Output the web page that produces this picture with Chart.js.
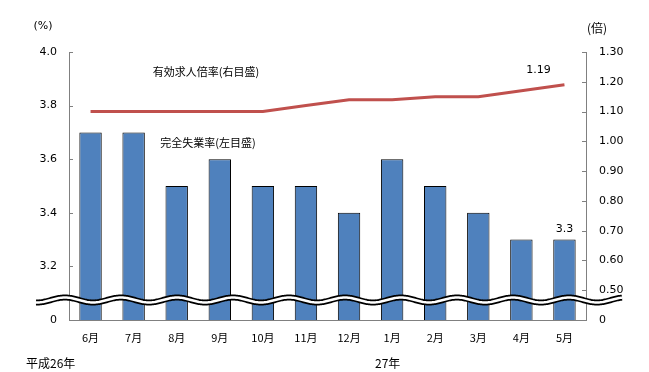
<!DOCTYPE html>
<html>
<head>
<meta charset="utf-8">
<script src="https://cdn.jsdelivr.net/npm/chart.js"></script>
<style>
  html, body { margin: 0; padding: 0; background: #fff; }
  #wrap { width: 649px; height: 372px; }
</style>
</head>
<body>
<div id="wrap"><canvas id="chart" width="649" height="372"></canvas></div>
<script>
const months = ["6月", "7月", "8月", "9月", "10月", "11月", "12月", "1月", "2月", "3月", "4月", "5月"];
const unemployment = [3.7, 3.7, 3.5, 3.6, 3.5, 3.5, 3.4, 3.6, 3.5, 3.4, 3.3, 3.3];
const jobRatio = [1.10, 1.10, 1.10, 1.10, 1.10, 1.12, 1.14, 1.14, 1.15, 1.15, 1.17, 1.19];
const leftTicks = [3.0, 3.2, 3.4, 3.6, 3.8, 4.0];
const rightTicks = [0.4, 0.5, 0.6, 0.7, 0.8, 0.9, 1.0, 1.1, 1.2, 1.3];

const jp = '"Noto Sans CJK JP", sans-serif';
const num = '"DejaVu Sans", sans-serif';

// texts, tick marks, axis break
const extras = {
  id: "extras",
  afterDatasetsDraw(chart) {
    const { ctx, chartArea: a, scales } = chart;
    ctx.save();

    // inward tick marks
    ctx.strokeStyle = "#808080";
    ctx.lineWidth = 1;
    leftTicks.forEach(v => {
      const y = Math.round(scales.y.getPixelForValue(v)) + 0.5;
      ctx.beginPath(); ctx.moveTo(a.left, y); ctx.lineTo(a.left + 4, y); ctx.stroke();
    });
    rightTicks.forEach(v => {
      const y = Math.round(scales.y1.getPixelForValue(v)) + 0.5;
      ctx.beginPath(); ctx.moveTo(a.right - 4, y); ctx.lineTo(a.right, y); ctx.stroke();
    });

    // wavy break
    const wave = () => {
      ctx.beginPath();
      for (let x = 36; x <= 622; x++) {
        const y = 300 + 2.5 * Math.sin((x - 79) / 56 * 2 * Math.PI);
        if (x === 36) ctx.moveTo(x, y); else ctx.lineTo(x, y);
      }
      ctx.stroke();
    };
    ctx.strokeStyle = "#000";
    ctx.lineWidth = 6;
    wave();
    ctx.strokeStyle = "#fff";
    ctx.lineWidth = 2.5;
    wave();

    // texts
    ctx.fillStyle = "#000";
    ctx.textBaseline = "middle";
    ctx.textAlign = "center";
    ctx.font = "11px " + num;
    ctx.fillText("(%)", 43, 26);
    ctx.font = "12px " + jp;
    ctx.fillText("(倍)", 597, 28);
    ctx.font = "11px " + jp;
    ctx.fillText("有効求人倍率(右目盛)", 206, 72);
    ctx.fillText("完全失業率(左目盛)", 208, 143);
    ctx.font = "12px " + jp;
    ctx.textAlign = "left";
    ctx.fillText("平成26年", 26, 363);
    ctx.fillText("27年", 375, 363);

    // data labels
    ctx.textAlign = "center";
    ctx.font = "11px " + num;
    const pts = chart.getDatasetMeta(0).data;
    const lp = pts[pts.length - 1];
    ctx.fillText(jobRatio[jobRatio.length - 1].toFixed(2), lp.x - 26, lp.y - 15);
    const bars = chart.getDatasetMeta(1).data;
    const last = bars[bars.length - 1];
    ctx.fillText(unemployment[unemployment.length - 1].toFixed(1), last.x, last.y - 10);

    ctx.restore();
  }
};

new Chart(document.getElementById("chart").getContext("2d"), {
  data: {
    labels: months,
    datasets: [
      {
        type: "line",
        label: "有効求人倍率",
        data: jobRatio,
        yAxisID: "y1",
        borderColor: "#C0504D",
        borderWidth: 3,
        pointRadius: 0,
        tension: 0,
        order: 0
      },
      {
        type: "bar",
        label: "完全失業率",
        data: unemployment,
        yAxisID: "y",
        backgroundColor: "#4F81BD",
        borderColor: "#000",
        borderWidth: 1,
        categoryPercentage: 1,
        barPercentage: 0.52,
        order: 1
      }
    ]
  },
  options: {
    responsive: false,
    animation: false,
    layout: { padding: { top: 52, left: 0, right: 0, bottom: 0 } },
    plugins: { legend: { display: false }, tooltip: { enabled: false } },
    scales: {
      x: {
        grid: { display: false, drawTicks: false },
        border: { display: true, color: "#808080" },
        ticks: { color: "#000", font: { family: jp, size: 11 }, padding: 11, maxRotation: 0 },
        afterFit: s => { s.height = 52; }
      },
      y: {
        position: "left",
        min: 3.0,
        max: 4.0,
        grid: { display: false, drawTicks: false },
        border: { display: true, color: "#808080" },
        afterBuildTicks: s => { s.ticks = leftTicks.map(v => ({ value: v })); },
        ticks: {
          color: "#000",
          font: { family: num, size: 11 },
          padding: 12,
          callback: v => (v === 3.0 ? "0" : v.toFixed(1))
        },
        afterFit: s => { s.width = 69; }
      },
      y1: {
        position: "right",
        min: 0.4,
        max: 1.3,
        grid: { display: false, drawTicks: false },
        border: { display: true, color: "#808080" },
        afterBuildTicks: s => { s.ticks = rightTicks.map(v => ({ value: v })); },
        ticks: {
          color: "#000",
          font: { family: num, size: 11 },
          padding: 13,
          callback: v => (Math.abs(v - 0.4) < 1e-9 ? "0" : v.toFixed(2))
        },
        afterFit: s => { s.width = 63; }
      }
    }
  },
  plugins: [extras]
});
</script>
</body>
</html>
